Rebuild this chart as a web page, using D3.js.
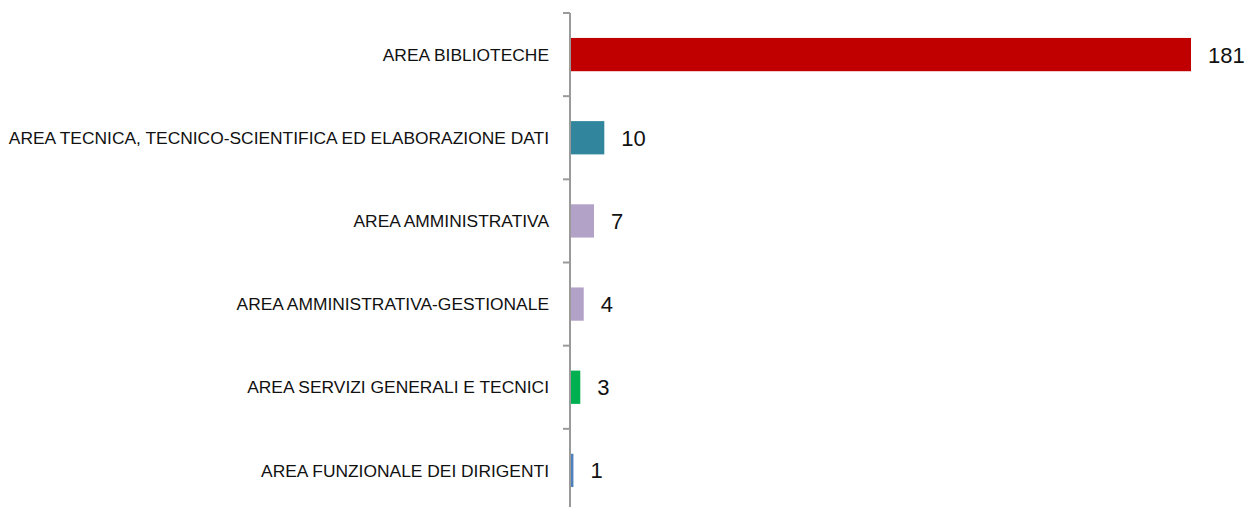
<!DOCTYPE html>
<html>
<head>
<meta charset="utf-8">
<script src="https://cdn.jsdelivr.net/npm/d3@7"></script>
<style>
  html, body { margin: 0; padding: 0; background: #fff; }
  svg { display: block; }
  .cat-label { font-family: "Liberation Sans", Arial, sans-serif; font-size: 17.4px; fill: #111; }
  .val-label { font-family: "Liberation Sans", Arial, sans-serif; font-size: 22px; fill: #111; }
</style>
</head>
<body>
<svg id="chart" width="1251" height="507"></svg>
<script>
  /* ── Data ─────────────────────────────────────────────────────────────────── */
  const categories = [
    'AREA BIBLIOTECHE',
    'AREA TECNICA, TECNICO-SCIENTIFICA ED ELABORAZIONE DATI',
    'AREA AMMINISTRATIVA',
    'AREA AMMINISTRATIVA-GESTIONALE',
    'AREA SERVIZI GENERALI E TECNICI',
    'AREA FUNZIONALE DEI DIRIGENTI'
  ];
  const values = [181, 10, 7, 4, 3, 1];
  const colors = ['#C00000', '#31859C', '#B3A2C7', '#B3A2C7', '#00B050', '#4F81BD'];

  /* ── Layout ───────────────────────────────────────────────────────────────── */
  const axisX = 570;
  const plotTop = 13, plotBottom = 512;

  const svg = d3.select('#chart');

  const y = d3.scaleBand()
    .domain(categories)
    .range([plotTop, plotBottom])
    .paddingInner(0.6)
    .paddingOuter(0.3);

  const boundary = d3.scaleLinear()
    .domain([0, categories.length])
    .range([plotTop, plotBottom]);

  const x = d3.scaleLinear()
    .domain([0, 181])
    .range([axisX, 1191]);

  const rows = categories.map((c, i) => ({ cat: c, value: values[i], color: colors[i] }));

  /* bars */
  svg.append('g').selectAll('rect')
    .data(rows)
    .join('rect')
    .attr('x', x(0))
    .attr('y', d => y(d.cat))
    .attr('width', d => x(d.value) - x(0))
    .attr('height', y.bandwidth())
    .attr('fill', d => d.color);

  /* axis line + tick marks at band boundaries */
  const axisG = svg.append('g');
  axisG.append('line')
    .attr('x1', axisX).attr('x2', axisX)
    .attr('y1', plotTop).attr('y2', plotBottom)
    .attr('stroke', '#9a9a9a').attr('stroke-width', 2);
  axisG.selectAll('.tick')
    .data(d3.range(categories.length + 1))
    .join('line')
    .attr('class', 'tick')
    .attr('x1', axisX - 7).attr('x2', axisX)
    .attr('y1', d => boundary(d)).attr('y2', d => boundary(d))
    .attr('stroke', '#9a9a9a').attr('stroke-width', 2);

  /* category labels */
  svg.append('g').selectAll('text')
    .data(rows)
    .join('text')
    .attr('class', 'cat-label')
    .attr('x', axisX - 21)
    .attr('y', d => y(d.cat) + y.bandwidth() / 2)
    .attr('dy', '0.35em')
    .attr('text-anchor', 'end')
    .text(d => d.cat);

  /* value labels */
  svg.append('g').selectAll('text')
    .data(rows)
    .join('text')
    .attr('class', 'val-label')
    .attr('x', d => x(d.value) + 17)
    .attr('y', d => y(d.cat) + y.bandwidth() / 2)
    .attr('dy', '0.36em')
    .text(d => d.value);
</script>
</body>
</html>
